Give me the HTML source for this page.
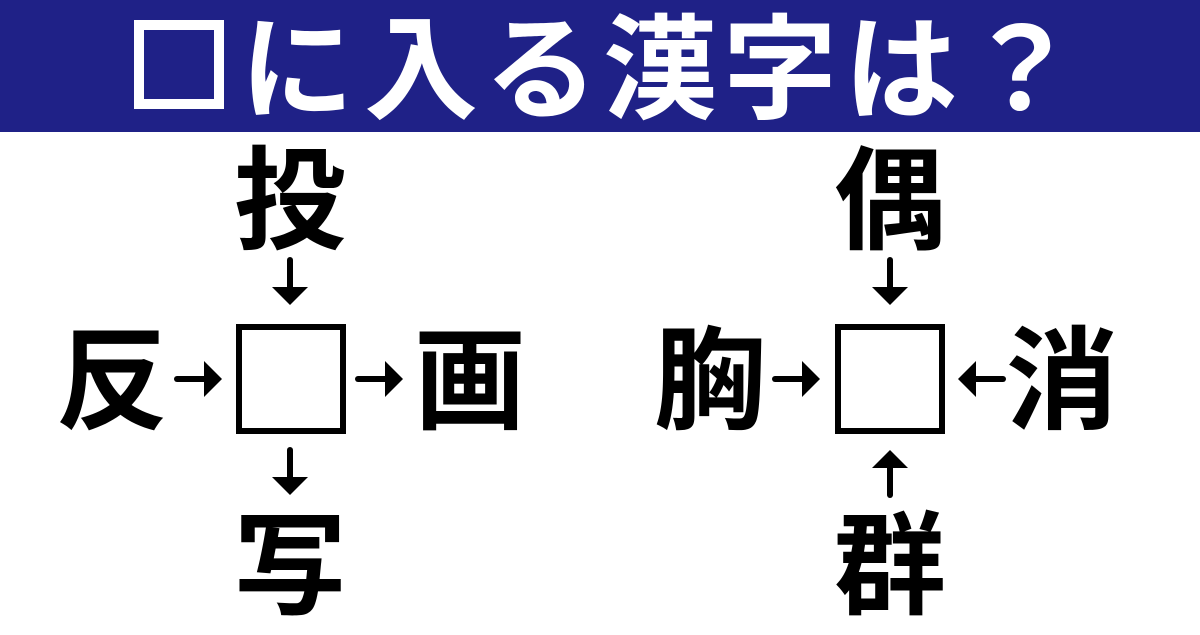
<!DOCTYPE html>
<html><head><meta charset="utf-8"><style>
body{margin:0;width:1200px;height:630px;overflow:hidden;background:#fff}
</style></head><body>
<svg width="1200" height="630" viewBox="0 0 1200 630" xmlns="http://www.w3.org/2000/svg">
<rect x="0" y="0" width="1200" height="132" fill="#1f2187"/>
<rect x="139" y="25" width="80" height="79" fill="none" stroke="#fff" stroke-width="10"/>
<g font-family="'Noto Sans CJK JP',sans-serif" font-weight="700" font-size="114" fill="#fff" text-anchor="middle">
<text x="297" y="110">に</text>
<text x="421" y="110">入</text>
<text x="541" y="110">る</text>
<text x="660" y="110">漢</text>
<text x="780" y="110">字</text>
<text x="901" y="110">は</text>
<text x="1021" y="110">？</text>
</g>
<g font-family="'Noto Sans CJK JP',sans-serif" font-weight="700" font-size="112" fill="#000" text-anchor="middle">
<text x="290" y="240">投</text>
<text x="112" y="420">反</text>
<text x="470" y="420">画</text>
<text x="290" y="605">写</text>
<text x="890" y="240">偶</text>
<text x="710" y="420">胸</text>
<text x="1062" y="420">消</text>
<text x="890" y="605">群</text>
</g>
<rect x="239" y="327" width="104" height="104" fill="none" stroke="#000" stroke-width="6"/>
<rect x="838" y="327" width="104" height="104" fill="none" stroke="#000" stroke-width="6"/>
<defs>
<g id="ad"><line x1="0" y1="0" x2="0" y2="28" stroke="#000" stroke-width="6" stroke-linecap="round"/><polygon points="-18,27 18,27 0,45" fill="#000"/></g>
</defs>
<use href="#ad" transform="translate(290,260)"/>
<use href="#ad" transform="translate(290,450)"/>
<use href="#ad" transform="translate(177,379) rotate(-90)"/>
<use href="#ad" transform="translate(358,379) rotate(-90)"/>
<use href="#ad" transform="translate(890,260)"/>
<use href="#ad" transform="translate(890,495) rotate(180)"/>
<use href="#ad" transform="translate(775,379) rotate(-90)"/>
<use href="#ad" transform="translate(1003,379) rotate(90)"/>
</svg>
</body></html>
